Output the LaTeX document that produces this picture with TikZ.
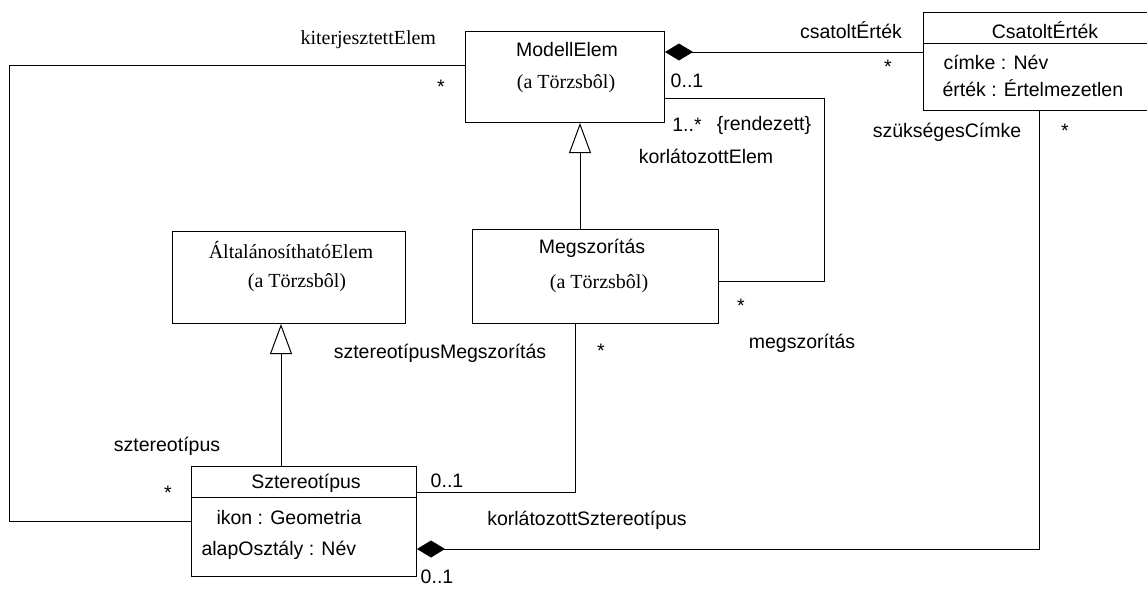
\documentclass[tikz,border=0pt]{standalone}
\usepackage{fontspec}
\setmainfont{Liberation Serif}
\setsansfont{Liberation Sans}
\usetikzlibrary{arrows.meta}
\begin{document}
\begin{tikzpicture}[x=1pt,y=-1pt,
  line width=1pt,
  classbox/.style={draw, inner sep=0pt, anchor=north west},
  sf/.style={font=\sffamily\fontsize{19.5}{22}\selectfont, inner sep=0pt},
  rm/.style={font=\rmfamily\fontsize{20}{23}\selectfont, inner sep=0pt},
  composite/.style={-{Diamond[length=28pt,width=17pt]}},
  generalize/.style={-{Triangle[open,length=30pt,width=22pt,fill=white]}}]
\useasboundingbox (0,0) rectangle (1147,589);
\clip (0,0) rectangle (1147,589);

% class boxes
\node[classbox, minimum width=199pt, minimum height=91pt] (me) at (465,31) {};
\node[classbox, minimum width=240pt, minimum height=98pt] (ce) at (923,12) {};
\node[classbox, minimum width=246pt, minimum height=94pt] (mg) at (472,229) {};
\node[classbox, minimum width=233pt, minimum height=92pt] (ae) at (172,231) {};
\node[classbox, minimum width=225pt, minimum height=110pt] (st) at (191,466) {};

% compartment dividers
\coordinate (ydc) at (0,43);
\coordinate (yds) at (0,497);
\draw (ce.west |- ydc) -- (ce.east |- ydc);
\draw (st.west |- yds) -- (st.east |- yds);

% class texts
\node[sf] (meT) at (567,50) {ModellElem};
\node[rm] (meS) at (566,84) {(a Törzsbôl)};
\node[sf] (ceT) at (1045,30) {CsatoltÉrték};
\node[sf, anchor=west] (ceA1) at (943,62) {címke : Név};
\node[sf, anchor=west] (ceA2) at (942,88) {érték : Értelmezetlen};
\node[sf] (mgT) at (592,248) {Megszorítás};
\node[rm] (mgS) at (599,284) {(a Törzsbôl)};
\node[rm] (aeT) at (291,250) {ÁltalánosíthatóElem};
\node[rm] (aeS) at (297,283) {(a Törzsbôl)};
\node[sf] (stT) at (306,483) {Sztereotípus};
\node[sf, anchor=west] (stA1) at (216,518) {ikon : Geometria};
\node[sf, anchor=west] (stA2) at (201,550) {alapOsztály : Név};

% helper coordinates for connector rows and columns
\coordinate (y52) at (0,52);
\coordinate (y65) at (0,65);
\coordinate (y98) at (0,98);
\coordinate (y281) at (0,281);
\coordinate (y492) at (0,492);
\coordinate (y521) at (0,521);
\coordinate (y549) at (0,549);
\coordinate (x575) at (575,0);
\coordinate (x580) at (580,0);
\coordinate (x281) at (281,0);
\coordinate (x1039) at (1039,0);
\coordinate (kL) at (9,65);
\coordinate (kB) at (9,521);
\coordinate (rT) at (824,98);
\coordinate (rB) at (824,281);
\coordinate (sC) at (575,492);
\coordinate (cC) at (1039,549);

% associations
\draw[composite] (ce.west |- y52) -- (me.east |- y52);
\draw (me.west |- y65) -- (kL) -- (kB) -- (st.west |- y521);
\draw (me.east |- y98) -- (rT) -- (rB) -- (mg.east |- y281);
\draw (mg.south -| x575) -- (sC) -- (st.east |- y492);
\draw[composite] (ce.south -| x1039) -- (cC) -- (st.east |- y549);

% generalizations
\draw[generalize] (mg.north -| x580) -- (me.south -| x580);
\draw[generalize] (st.north -| x281) -- (ae.south -| x281);

% association end labels
\node[rm, anchor=west] (l1) at (300,40) {kiterjesztettElem};
\node[sf] (l2) at (441,87) {*};
\node[sf] (l3) at (851,30) {csatoltÉrték};
\node[sf] (l4) at (888,67) {*};
\node[sf] (l5) at (687,81) {0..1};
\node[sf] (l6) at (687,125) {1..*};
\node[sf] (l7) at (764,125) {\{rendezett\}};
\node[sf] (l8) at (706,156) {korlátozottElem};
\node[sf] (l9) at (947,132) {szükségesCímke};
\node[sf] (l10) at (1065,131) {*};
\node[sf] (l11) at (440,353) {sztereotípusMegszorítás};
\node[sf] (l12) at (601,351) {*};
\node[sf] (l13) at (741,306) {*};
\node[sf] (l14) at (802,343) {megszorítás};
\node[sf] (l15) at (167,446) {sztereotípus};
\node[sf] (l16) at (168,493) {*};
\node[sf] (l17) at (447,481) {0..1};
\node[sf] (l18) at (587,520) {korlátozottSztereotípus};
\node[sf] (l19) at (437,577) {0..1};
\end{tikzpicture}
\end{document}
